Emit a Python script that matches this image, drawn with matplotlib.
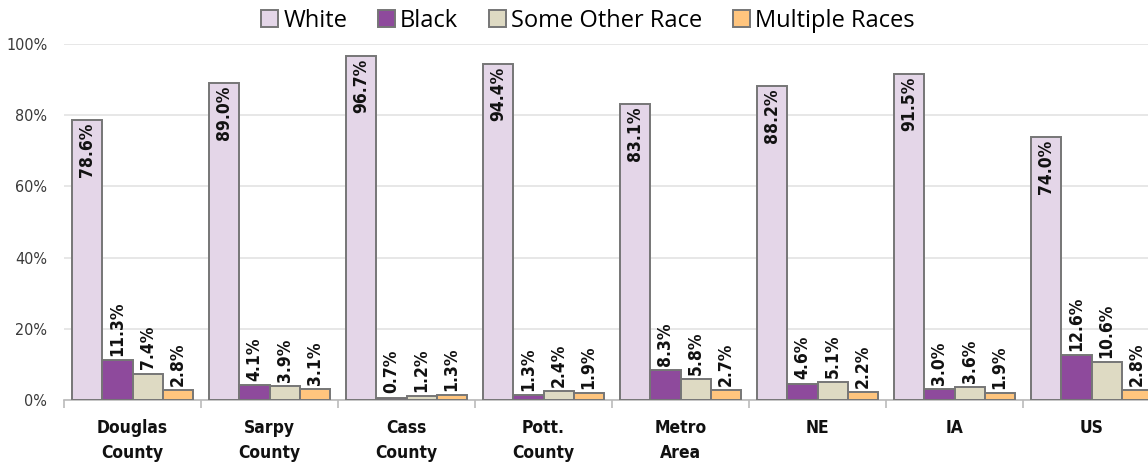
import matplotlib
matplotlib.use("Agg")
import matplotlib.pyplot as plt
import numpy as np
from matplotlib.patches import Patch
from matplotlib import font_manager as fm

categories = ["Douglas\nCounty", "Sarpy\nCounty", "Cass\nCounty", "Pott.\nCounty",
              "Metro\nArea", "NE", "IA", "US"]
series_names = ["White", "Black", "Some Other Race", "Multiple Races"]
white = [78.6, 89.0, 96.7, 94.4, 83.1, 88.2, 91.5, 74.0]
black = [11.3, 4.1, 0.7, 1.3, 8.3, 4.6, 3.0, 12.6]
other = [7.4, 3.9, 1.2, 2.4, 5.8, 5.1, 3.6, 10.6]
multi = [2.8, 3.1, 1.3, 1.9, 2.7, 2.2, 1.9, 2.8]
yticks = [0, 20, 40, 60, 80, 100]

colors = ["#E4D6E8", "#8E4A9C", "#DEDAC3", "#FFC57E"]
edge = "#767676"

names = {f.name for f in fm.fontManager.ttflist}
cond = [f for f in fm.fontManager.ttflist if "Condensed" in f.fname and "DejaVuSans" in f.fname]
if "Liberation Sans Narrow" in names:
    narrow_kw = dict(family="Liberation Sans Narrow")
elif cond:
    narrow_kw = dict(family="DejaVu Sans", stretch="condensed")
else:
    narrow_kw = dict(family="Liberation Sans")

fig = plt.figure(figsize=(11.48, 4.62), dpi=100)
ax = fig.add_axes([64/1148, 62/462, 1096/1148, 356/462])

n = len(categories)
x = np.arange(n)
bw = 0.219
offsets = [-1.5*bw, -0.5*bw, 0.5*bw, 1.5*bw]
all_series = [white, black, other, multi]

for si, (vals, c, off) in enumerate(zip(all_series, colors, offsets)):
    ax.bar(x + off, vals, width=bw, color=c, edgecolor=edge, linewidth=1.4, zorder=3)
    for xi, v in zip(x, vals):
        if si == 0:
            ax.annotate(f"{v:.1f}%", (xi + off, v), xytext=(0, -2), textcoords="offset points",
                        rotation=90, ha="center", va="top", fontsize=12.5, fontweight="bold",
                        color="#111111", zorder=4, **narrow_kw)
        else:
            ax.annotate(f"{v:.1f}%", (xi + off, v), xytext=(0, 3), textcoords="offset points",
                        rotation=90, ha="center", va="bottom", fontsize=12.5, fontweight="bold",
                        color="#111111", zorder=4, **narrow_kw)

ax.set_xlim(-0.5, n - 0.5)
ax.set_ylim(0, 100)
ax.set_yticks(yticks)
ax.set_yticklabels([f"{t}%" for t in yticks], fontsize=11.5, color="#3A3A3A", **narrow_kw)
ax.yaxis.grid(True, color="#E3E3E3", linewidth=1.2, zorder=0)
ax.set_axisbelow(True)
ax.tick_params(axis="y", length=0, pad=12)

ax.set_xticks(x)
ax.set_xticklabels(categories, fontsize=12.5, fontweight="bold", color="#111111",
                   linespacing=1.45, **narrow_kw)
ax.set_xticks(np.arange(n + 1) - 0.5, minor=True)
ax.tick_params(axis="x", which="major", length=0, pad=14)
ax.tick_params(axis="x", which="minor", length=6, color="#BBBBBB", width=1.2)

for s in ["top", "right", "left"]:
    ax.spines[s].set_visible(False)
ax.spines["bottom"].set_color("#BBBBBB")
ax.spines["bottom"].set_linewidth(1.2)

handles = [Patch(facecolor=c, edgecolor=edge, linewidth=1.4) for c in colors]
fig.legend(handles, series_names, loc="center left", bbox_to_anchor=(261/1148, 1 - 21/462),
           ncol=4, frameon=False, prop={"family": "Open Sans", "size": 17},
           borderpad=0, borderaxespad=0,
           handlelength=0.72, handleheight=0.72, handletextpad=0.22, columnspacing=1.3)

fig.savefig("out.png", dpi=100)
